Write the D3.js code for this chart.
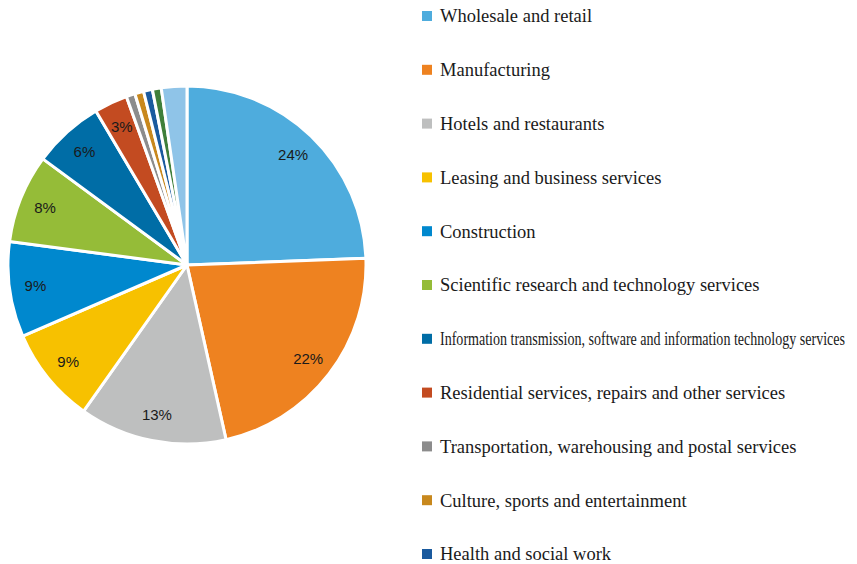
<!DOCTYPE html>
<html>
<head>
<meta charset="utf-8">
<script src="https://cdn.jsdelivr.net/npm/d3@7"></script>
<style>
  body { margin: 0; background: #fff; }
  svg { display: block; }
</style>
</head>
<body>
<div id="chart"></div>
<script>
// industry shares (percent)
var categories = [
  "Wholesale and retail",
  "Manufacturing",
  "Hotels and restaurants",
  "Leasing and business services",
  "Construction",
  "Scientific research and technology services",
  "Information transmission, software and information technology services",
  "Residential services, repairs and other services",
  "Transportation, warehousing and postal services",
  "Culture, sports and entertainment",
  "Health and social work",
  "Water conservancy, environment and public facilities management",
  "Others"
];
var shares = [24.4, 22.1, 13.3, 8.7, 8.6, 8.0, 6.4, 3.0, 0.8, 0.8, 0.8, 0.8, 2.3];
var colors = ["#4eacdd", "#ee8220", "#bebfbf", "#f7c100", "#0088ce", "#95bc38",
              "#006da6", "#c34b21", "#8c8c8c", "#c8881d", "#1a5a9e", "#3f7f3a", "#8fc4e8"];

var width = 857, height = 564;
var cx = 187, cy = 265, radius = 179;

var svg = d3.select("#chart").append("svg")
    .attr("width", width)
    .attr("height", height);

var data = categories.map(function(d, i) { return {name: d, value: shares[i], color: colors[i]}; });
var total = d3.sum(shares);

var pie = d3.pie()
    .sort(null)
    .value(function(d) { return d.value; });

var arc = d3.arc().innerRadius(0).outerRadius(radius);
var labelArc = d3.arc().innerRadius(153).outerRadius(153);

var g = svg.append("g")
    .attr("transform", "translate(" + cx + "," + cy + ")");

var arcs = pie(data);

g.selectAll("path")
    .data(arcs)
    .enter().append("path")
    .attr("d", arc)
    .style("fill", function(d) { return d.data.color; })
    .style("stroke", "#fff")
    .style("stroke-width", 3)
    .style("stroke-linejoin", "round");

// percentage labels only for the bigger slices
g.selectAll("text.pct")
    .data(arcs.filter(function(d) { return d.data.value / total >= 0.025; }))
    .enter().append("text")
    .attr("class", "pct")
    .attr("transform", function(d) { return "translate(" + labelArc.centroid(d) + ")"; })
    .attr("text-anchor", "middle")
    .attr("dy", "0.35em")
    .style("font-family", "'Liberation Sans', Arial, sans-serif")
    .style("font-size", "15px")
    .style("fill", "#1a1a1a")
    .text(function(d) { return Math.round(d.data.value / total * 100) + "%"; });

// legend - runs off the bottom of the page like the original
var legendY = d3.scalePoint()
    .domain(categories)
    .range([16, 16 + 53.8 * (categories.length - 1)]);

var legend = svg.append("g")
    .selectAll("g")
    .data(data.filter(function(d) { return legendY(d.name) < height; }))
    .enter().append("g")
    .attr("transform", function(d) { return "translate(422," + legendY(d.name) + ")"; });

legend.append("rect")
    .attr("x", 0)
    .attr("y", -5)
    .attr("width", 10)
    .attr("height", 10)
    .style("fill", function(d) { return d.color; });

legend.append("text")
    .attr("x", 18)
    .attr("dy", "0.35em")
    .style("font-family", "'Liberation Serif', 'Times New Roman', serif")
    .style("font-size", "18.5px")
    .style("fill", "#1a1a1a")
    .each(function(d) {
        var t = d3.select(this).text(d.name);
        if (this.getComputedTextLength() > 405) {
            t.attr("textLength", 405).attr("lengthAdjust", "spacingAndGlyphs");
        }
    });
</script>
</body>
</html>
